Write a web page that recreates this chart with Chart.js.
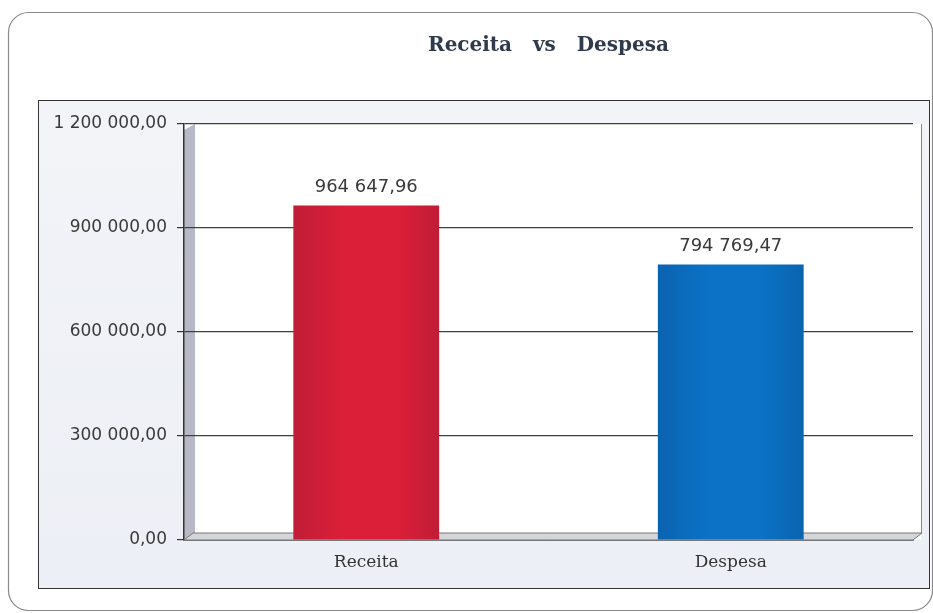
<!DOCTYPE html>
<html>
<head>
<meta charset="utf-8">
<script src="https://cdn.jsdelivr.net/npm/chart.js@4/dist/chart.umd.min.js"></script>
<style>
  html, body { margin: 0; padding: 0; background: #ffffff; }
  #wrap { width: 933px; height: 613px; position: relative; }
</style>
</head>
<body>
<div id="wrap"><canvas id="c" width="933" height="613"></canvas></div>
<script>
const chartTitle = 'Receita   vs   Despesa';
const categories = ['Receita', 'Despesa'];
const values = [964647.96, 794769.47];
const barBase = ['#dc1f38', '#0b72c6'];
const barEdge = ['#c01c36', '#0a63b0'];
const yMin = 0;
const yMax = 1200000;
const yStep = 300000;

function fmt(v) {
  const parts = v.toFixed(2).split('.');
  const int = parts[0].replace(/\B(?=(\d{3})+(?!\d))/g, ' ');
  return int + ',' + parts[1];
}

const decor = {
  id: 'decor',
  beforeDraw(chart) {
    const c = chart.ctx, a = chart.chartArea;
    c.save();
    c.fillStyle = '#ffffff';
    c.fillRect(0, 0, chart.width, chart.height);
    c.beginPath();
    c.roundRect(8.5, 12.5, 924, 598, 20);
    c.strokeStyle = '#8a8a8a';
    c.lineWidth = 1.2;
    c.stroke();
    const g = c.createLinearGradient(0, 100, 0, 588);
    g.addColorStop(0, '#f2f4f8');
    g.addColorStop(1, '#eceff5');
    c.fillStyle = g;
    c.fillRect(38.5, 100.5, 891, 488);
    c.strokeStyle = '#333';
    c.lineWidth = 1;
    c.strokeRect(38.5, 100.5, 891, 488);
    c.fillStyle = '#ffffff';
    c.fillRect(a.left, a.top, a.right - a.left + 8, a.bottom - a.top);
    c.beginPath();
    c.moveTo(a.left, a.top + 6);
    c.lineTo(a.left + 11, a.top);
    c.lineTo(a.left + 11, a.bottom - 7);
    c.lineTo(a.left, a.bottom);
    c.closePath();
    c.fillStyle = '#b7bac6';
    c.fill();
    c.beginPath();
    c.moveTo(a.right + 8.5, a.top);
    c.lineTo(a.right + 8.5, a.bottom - 7);
    c.strokeStyle = '#888';
    c.stroke();
    c.restore();
  },
  beforeDatasetsDraw(chart) {
    const c = chart.ctx, a = chart.chartArea;
    c.save();
    c.beginPath();
    c.moveTo(a.left, a.bottom);
    c.lineTo(a.left + 9, a.bottom - 7);
    c.lineTo(a.right + 9, a.bottom - 7);
    c.lineTo(a.right, a.bottom);
    c.closePath();
    c.fillStyle = '#d3d5db';
    c.fill();
    c.strokeStyle = '#777';
    c.lineWidth = 1;
    c.stroke();
    c.restore();
  },
  afterDatasetsDraw(chart) {
    const c = chart.ctx;
    const meta = chart.getDatasetMeta(0);
    c.save();
    c.font = '18px "DejaVu Sans"';
    c.fillStyle = '#3a3a3a';
    c.textAlign = 'center';
    c.textBaseline = 'bottom';
    meta.data.forEach((bar, i) => {
      c.fillText(fmt(values[i]), bar.x, bar.y - 9);
    });
    c.restore();
  }
};

new Chart(document.getElementById('c'), {
  type: 'bar',
  data: {
    labels: categories,
    datasets: [{
      data: values,
      barPercentage: 0.4,
      categoryPercentage: 1,
      borderWidth: 0,
      backgroundColor(ctx) {
        const chart = ctx.chart;
        const i = ctx.dataIndex;
        if (!chart.chartArea || !chart.scales.x) return barBase[i];
        const xs = chart.scales.x;
        const cx = xs.getPixelForValue(i);
        const hw = (xs.width / categories.length) * 0.4 / 2;
        const g = chart.ctx.createLinearGradient(cx - hw, 0, cx + hw, 0);
        g.addColorStop(0, barEdge[i]);
        g.addColorStop(0.35, barBase[i]);
        g.addColorStop(0.7, barBase[i]);
        g.addColorStop(1, barEdge[i]);
        return g;
      }
    }]
  },
  options: {
    responsive: false,
    animation: false,
    layout: { padding: { left: 0, right: 20, top: 34, bottom: 33 } },
    plugins: {
      legend: { display: false },
      tooltip: { enabled: false },
      title: {
        display: true,
        text: chartTitle,
        fullSize: false,
        color: '#2f3a4c',
        font: { family: '"DejaVu Serif"', size: 20, weight: 'bold', lineHeight: 1.2 },
        padding: { top: 0, bottom: 66 }
      }
    },
    scales: {
      x: {
        afterFit(s) { s.height = 40; },
        grid: { display: false, drawTicks: false },
        border: { display: true, color: '#333', width: 1.5 },
        ticks: {
          color: '#333',
          padding: 12,
          font: { family: '"DejaVu Serif"', size: 17 }
        }
      },
      y: {
        min: yMin,
        max: yMax,
        afterFit(s) { s.width = 184; },
        grid: { color: '#3b404a', lineWidth: 1.2, tickLength: 7, tickColor: '#333' },
        border: { display: true, color: '#333', width: 1.5 },
        ticks: {
          stepSize: yStep,
          color: '#3a3a3a',
          padding: 10,
          font: { family: '"DejaVu Sans"', size: 17 },
          callback: (v) => fmt(v)
        }
      }
    }
  },
  plugins: [decor]
});
</script>
</body>
</html>
